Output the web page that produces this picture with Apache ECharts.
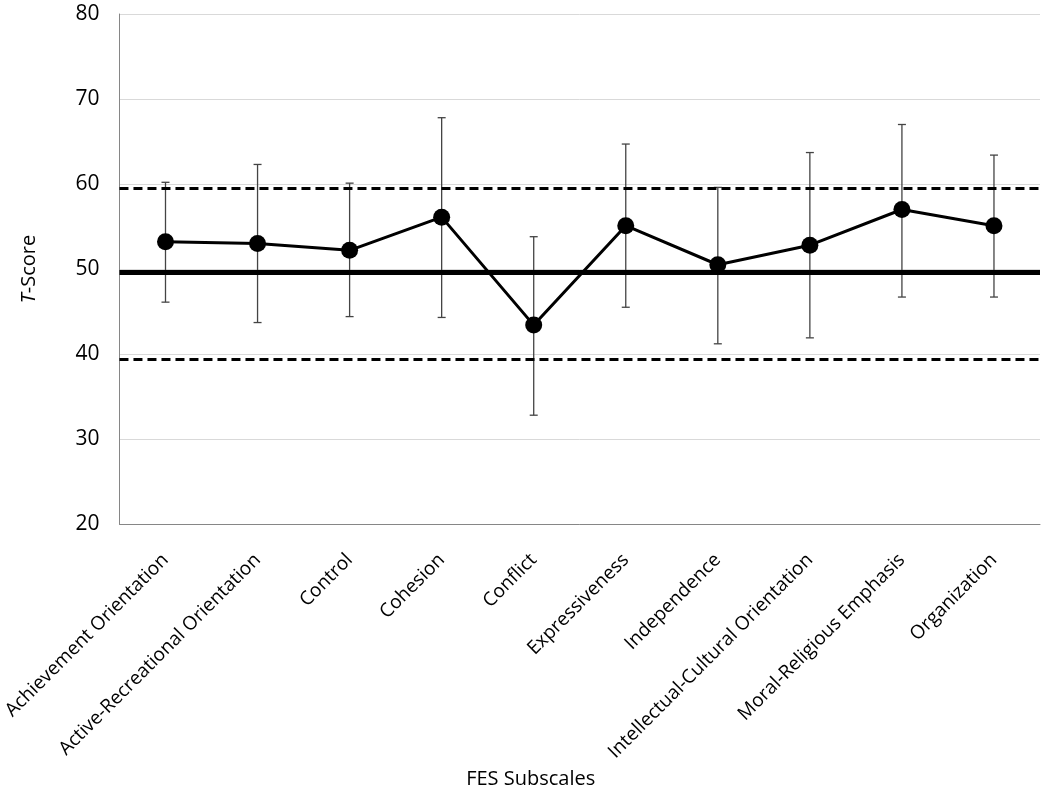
<!DOCTYPE html>
<html><head><meta charset="utf-8">
<script src="https://cdn.jsdelivr.net/npm/echarts@6/dist/echarts.min.js"></script>
<style>html,body{margin:0;padding:0;background:#fff}#c{width:1050px;height:794px}</style>
</head><body><div id="c"></div>
<script>
const categories = ['Achievement Orientation','Active-Recreational Orientation','Control','Cohesion','Conflict','Expressiveness','Independence','Intellectual-Cultural Orientation','Moral-Religious Emphasis','Organization'];
const means = [53.2, 53.0, 52.2, 56.1, 43.4, 55.1, 50.5, 52.8, 57.0, 55.1];
const upper = [60.2, 62.3, 60.1, 67.8, 53.8, 64.7, 59.6, 63.7, 67.0, 63.4];
const lower = [46.1, 43.7, 44.4, 44.3, 32.8, 45.5, 41.2, 41.9, 46.7, 46.7];
const refMean = 49.65;
const refUpper = 59.5;
const refLower = 39.35;
const yTicks = [20, 30, 40, 50, 60, 70, 80];

const FONT = 'Open Sans';
const chart = echarts.init(document.getElementById('c'), null, {renderer:'canvas'});
const errData = categories.map((c,i)=>[i, lower[i], upper[i]]);
chart.setOption({
  animation:false,
  grid:{left:118, right:10, top:14, bottom:270, containLabel:false},
  xAxis:{
    type:'category', data:categories, boundaryGap:true,
    axisLine:{lineStyle:{color:'#868686', width:1}},
    axisTick:{alignWithLabel:true, length:5, lineStyle:{color:'#868686'}},
    axisLabel:{rotate:45, interval:0, margin:33, color:'#000', fontFamily:FONT, fontSize:19},
    name:'FES Subscales', nameLocation:'middle', nameGap:242,
    nameTextStyle:{color:'#000', fontFamily:FONT, fontSize:20, padding:[0,98,0,0]}
  },
  yAxis:{
    type:'value', min:yTicks[0], max:yTicks[yTicks.length-1], interval:10,
    axisLine:{show:true, lineStyle:{color:'#868686', width:1}},
    axisTick:{show:false},
    splitLine:{lineStyle:{color:'#d9d9d9', width:1}},
    axisLabel:{color:'#000', fontFamily:FONT, fontSize:21, margin:20},
    name:'{i|T}-Score', nameLocation:'middle', nameGap:80,
    nameTextStyle:{color:'#000', fontFamily:FONT, fontSize:20,
      rich:{i:{fontStyle:'italic', fontFamily:FONT, fontSize:20, color:'#000'}}}
  },
  series:[
    {
      type:'custom', z:3,
      renderItem:function(params, api){
        const x = api.value(0);
        const lo = api.coord([x, api.value(1)]);
        const hi = api.coord([x, api.value(2)]);
        const w = 4;
        const st = {stroke:'#444', lineWidth:1.3};
        return {type:'group', children:[
          {type:'line', shape:{x1:lo[0], y1:lo[1], x2:hi[0], y2:hi[1]}, style:st},
          {type:'line', shape:{x1:lo[0]-w, y1:lo[1], x2:lo[0]+w, y2:lo[1]}, style:st},
          {type:'line', shape:{x1:hi[0]-w, y1:hi[1], x2:hi[0]+w, y2:hi[1]}, style:st}
        ]};
      },
      encode:{x:0, y:[1,2]},
      data:errData
    },
    {
      type:'line', data:means, z:5,
      symbol:'circle', symbolSize:17,
      lineStyle:{color:'#000', width:3},
      itemStyle:{color:'#000'},
      markLine:{
        silent:true, symbol:'none', label:{show:false},
        data:[
          {yAxis:refMean, lineStyle:{color:'#000', width:5, type:'solid'}},
          {yAxis:refUpper, lineStyle:{color:'#000', width:3, type:[9,5]}},
          {yAxis:refLower, lineStyle:{color:'#000', width:3, type:[9,5]}}
        ]
      }
    }
  ]
});
</script></body></html>
